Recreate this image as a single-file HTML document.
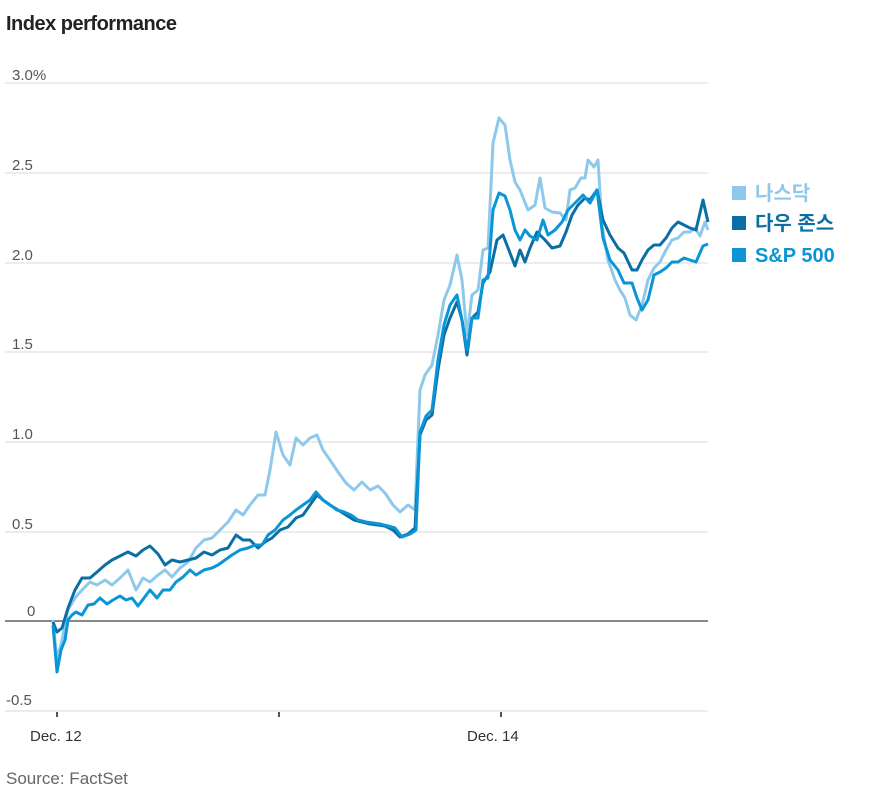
<!DOCTYPE html>
<html><head><meta charset="utf-8"><style>
body{margin:0;background:#fff;width:894px;height:803px;overflow:hidden;font-family:"Liberation Sans","Noto Sans CJK KR",sans-serif;}
</style></head><body>
<svg width="894" height="803" xmlns="http://www.w3.org/2000/svg" style="position:absolute;left:0;top:0">
<text x="6" y="30" font-size="20" font-weight="bold" fill="#222" font-family="Liberation Sans, sans-serif" letter-spacing="-0.5">Index performance</text>
<g stroke="#ececec" stroke-width="2">
<line x1="5" y1="83" x2="708" y2="83"/><line x1="5" y1="173" x2="708" y2="173"/><line x1="5" y1="263" x2="708" y2="263"/><line x1="5" y1="352" x2="708" y2="352"/><line x1="5" y1="442" x2="708" y2="442"/><line x1="5" y1="532" x2="708" y2="532"/><line x1="5" y1="711" x2="708" y2="711"/>
</g>
<g font-size="15" fill="#555" font-family="Liberation Sans, sans-serif">
<text x="12" y="80">3.0%</text><text x="12" y="170">2.5</text><text x="12" y="260">2.0</text><text x="12" y="349">1.5</text><text x="12" y="439">1.0</text><text x="12" y="529">0.5</text><text x="27" y="616">0</text><text x="6" y="705">-0.5</text>
<text x="30" y="741" fill="#333">Dec. 12</text><text x="467" y="741" fill="#333">Dec. 14</text>
<text x="6" y="784" font-size="17" fill="#666">Source: FactSet</text>
</g>
<g stroke="#555" stroke-width="2"><line x1="57" y1="712" x2="57" y2="717"/><line x1="279" y1="712" x2="279" y2="717"/><line x1="501" y1="712" x2="501" y2="717"/></g>
<line x1="5" y1="621" x2="708" y2="621" stroke="#888" stroke-width="2"/>
<g fill="none" stroke-width="3" stroke-linejoin="round">
<polyline stroke="#8ec9ec" points="53,620 57,660 62,640 68,610 75,598 82,590 90,582 97,585 105,580 112,585 120,578 128,570 136,590 143,578 150,582 158,575 165,570 172,577 180,568 188,562 196,548 204,540 212,538 220,530 228,522 236,510 243,515 250,505 258,495 265,495 270,470 276,432 283,455 290,465 296,438 303,445 310,438 317,435 323,450 330,460 338,472 346,483 354,490 362,482 370,490 378,486 385,493 393,505 400,512 408,505 415,510 420,390 425,375 432,365 438,335 444,300 450,285 457,255 462,280 467,335 472,295 478,290 483,250 488,248 493,143 499,118 505,125 510,160 515,182 520,190 528,210 535,205 540,178 545,208 552,212 560,213 566,220 570,190 575,188 581,178 585,178 588,160 594,167 598,160 602,225 608,260 615,280 620,290 625,298 630,315 636,320 642,305 648,280 654,268 660,262 666,250 672,240 678,238 684,232 690,232 695,228 700,236 705,222 708,230"/>
<polyline stroke="#0b6fa6" points="53,622 57,632 62,628 68,608 75,590 82,578 90,578 97,572 105,565 112,560 120,556 128,552 136,556 143,550 150,546 158,554 165,565 172,560 180,562 188,560 196,558 204,552 212,555 220,550 228,548 236,535 243,540 250,540 258,548 265,542 272,538 280,530 288,527 296,518 303,515 310,505 317,495 323,500 330,505 338,510 346,515 354,520 362,522 370,524 378,525 385,526 393,530 400,537 408,534 415,528 420,435 426,420 432,415 438,370 444,335 450,318 457,302 462,320 467,355 472,318 478,312 483,283 490,272 497,240 503,235 510,253 515,266 520,250 525,262 530,248 537,232 545,240 552,248 560,246 566,232 572,215 578,205 585,198 590,200 597,190 603,220 610,235 618,248 624,253 632,270 637,270 642,260 648,250 654,245 660,245 666,238 672,228 678,222 684,225 690,228 696,230 703,200 708,222"/>
<polyline stroke="#0a96d6" points="53,625 57,672 61,650 65,640 68,620 72,615 76,612 82,615 88,605 94,604 100,598 107,604 113,600 120,596 126,600 132,598 138,606 144,598 150,590 157,598 163,590 170,590 176,582 183,577 190,570 196,575 204,570 212,568 218,565 225,560 232,555 240,550 248,548 255,545 262,545 268,535 275,530 283,520 290,515 296,510 303,505 310,500 316,492 323,500 330,505 337,510 344,512 351,515 358,520 366,522 373,523 380,524 388,526 395,528 402,537 410,534 416,530 420,432 426,416 432,410 438,360 444,325 450,305 457,295 462,320 467,350 472,318 478,318 483,280 488,278 493,210 499,193 505,196 510,210 515,230 520,240 525,230 530,236 537,240 543,220 548,235 555,230 562,222 568,210 575,203 583,195 590,203 597,190 603,238 610,260 618,270 624,283 632,283 637,298 642,310 648,300 654,275 660,272 666,268 672,262 678,262 684,258 690,260 696,262 703,246 708,244"/>
</g>
<g font-size="20" font-weight="bold" font-family="Liberation Sans, Noto Sans CJK KR, sans-serif">
<rect x="732" y="186" width="14" height="14" fill="#8ec9ec"/><text x="755" y="200" fill="#8ec9ec">나스닥</text>
<rect x="732" y="216" width="14" height="14" fill="#0b6fa6"/><text x="755" y="230" fill="#0b6fa6">다우 존스</text>
<rect x="732" y="248" width="14" height="14" fill="#0a96d6"/><text x="755" y="262" fill="#0a96d6">S&amp;P 500</text>
</g>
</svg>
</body></html>
